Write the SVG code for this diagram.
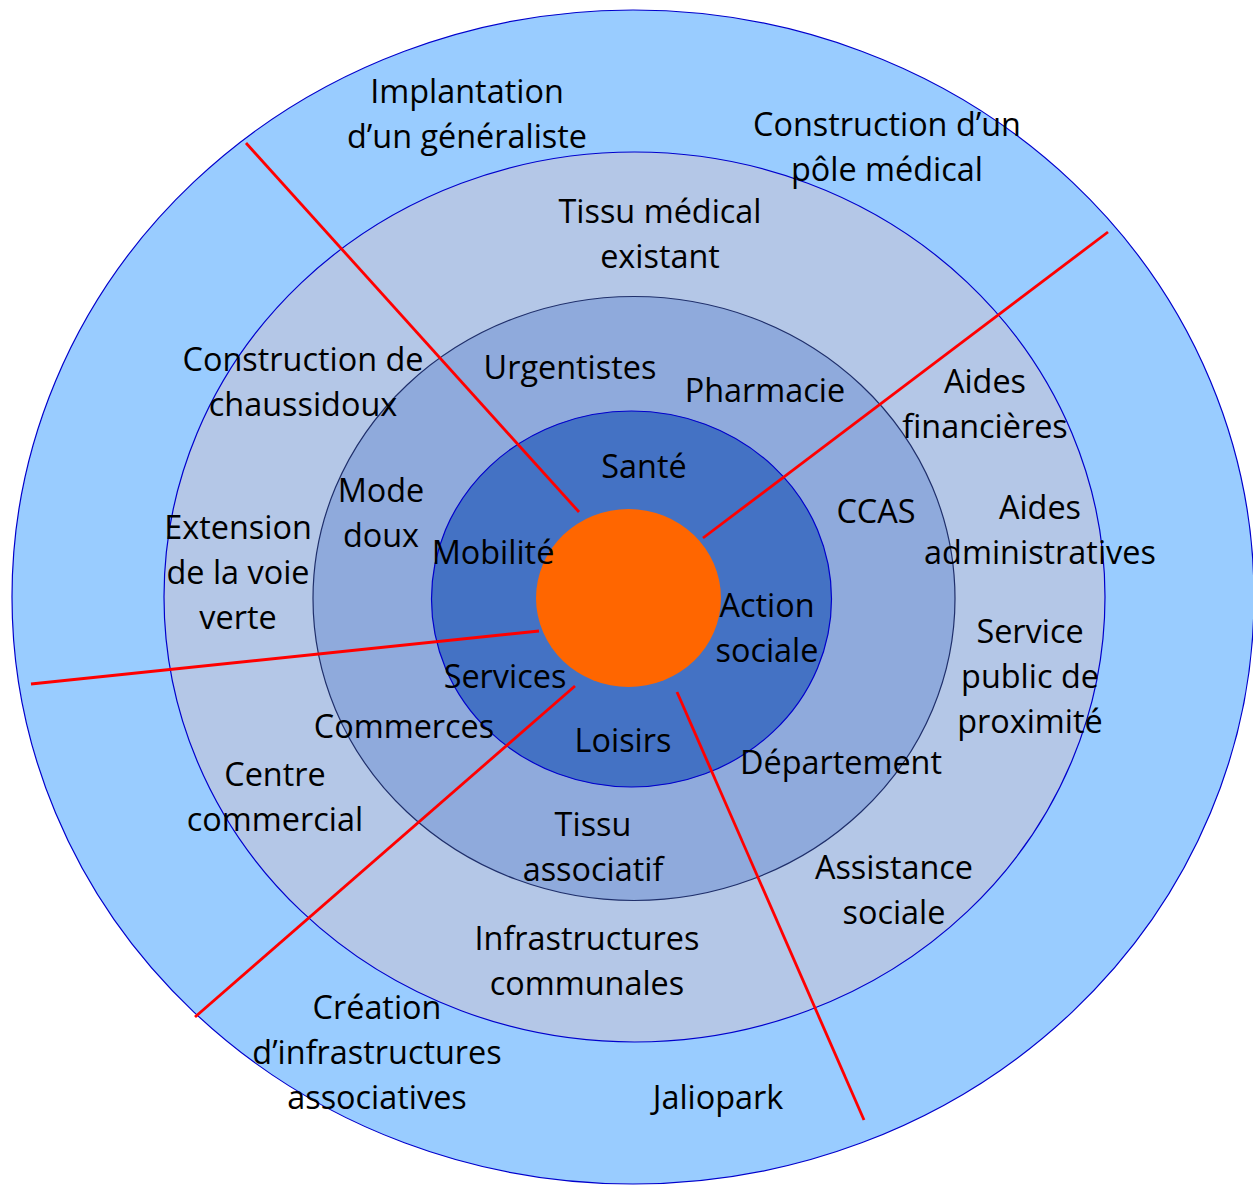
<svg xmlns="http://www.w3.org/2000/svg" width="1253" height="1186" viewBox="0 0 1253 1186">
<style>
text{font-family:"Open Sans","Noto Sans","Liberation Sans",sans-serif;font-size:32.4px;fill:#000;text-anchor:middle}
.ring1{fill:#99CCFF;stroke:#0000CC;stroke-width:1.2}
.ring2{fill:#B4C7E7;stroke:#0000CC;stroke-width:1.2}
.ring3{fill:#8FAADC;stroke:#1F2F6B;stroke-width:1.2}
.ring4{fill:#4472C4;stroke:#0000CC;stroke-width:1.2}
.core{fill:#FF6600}
.conn line{stroke:#FF0000;stroke-width:2.8}
</style>
<rect width="1253" height="1186" fill="#fff"/>
<g id="ring-outer"><ellipse class="ring1" cx="633" cy="597" rx="621" ry="587"/></g>
<g id="ring-2"><ellipse class="ring2" cx="634.5" cy="597" rx="470.5" ry="445"/></g>
<g id="ring-3"><ellipse class="ring3" cx="634" cy="598.5" rx="321" ry="302"/></g>
<g id="ring-4"><ellipse class="ring4" cx="631.5" cy="599" rx="200" ry="188"/></g>
<g id="core"><ellipse class="core" cx="628.5" cy="598" rx="92.5" ry="89"/></g>
<g id="connectors" class="conn">
<line x1="246" y1="143" x2="579" y2="512"/>
<line x1="1108" y1="232" x2="703" y2="538"/>
<line x1="31" y1="684" x2="539" y2="631"/>
<line x1="195" y1="1017" x2="575" y2="686"/>
<line x1="677" y1="692" x2="864" y2="1120"/>
</g>
<g id="label-implantation"><text x="467" y="103">Implantation</text><text x="467" y="148">d’un généraliste</text></g>
<g id="label-pole"><text x="887" y="136">Construction d’un</text><text x="887" y="181">pôle médical</text></g>
<g id="label-tissu-medical"><text x="660" y="223">Tissu médical</text><text x="660" y="268">existant</text></g>
<g id="label-chaussidoux"><text x="303" y="371">Construction de</text><text x="303" y="416">chaussidoux</text></g>
<g id="label-urgentistes"><text x="570" y="379">Urgentistes</text></g>
<g id="label-pharmacie"><text x="765" y="402">Pharmacie</text></g>
<g id="label-aides-fin"><text x="985" y="393">Aides</text><text x="985" y="438">financières</text></g>
<g id="label-sante"><text x="644" y="478">Santé</text></g>
<g id="label-mode-doux"><text x="381" y="502">Mode</text><text x="381" y="547">doux</text></g>
<g id="label-voie-verte"><text x="238" y="539">Extension</text><text x="238" y="584">de la voie</text><text x="238" y="629">verte</text></g>
<g id="label-mobilite"><text x="493" y="564">Mobilité</text></g>
<g id="label-ccas"><text x="876" y="523">CCAS</text></g>
<g id="label-aides-adm"><text x="1040" y="519">Aides</text><text x="1040" y="564">administratives</text></g>
<g id="label-action-sociale"><text x="767" y="617">Action</text><text x="767" y="662">sociale</text></g>
<g id="label-service-public"><text x="1030" y="643">Service</text><text x="1030" y="688">public de</text><text x="1030" y="733">proximité</text></g>
<g id="label-services"><text x="505" y="688">Services</text></g>
<g id="label-commerces"><text x="404" y="738">Commerces</text></g>
<g id="label-loisirs"><text x="623" y="752">Loisirs</text></g>
<g id="label-departement"><text x="841" y="774">Département</text></g>
<g id="label-centre-commercial"><text x="275" y="786">Centre</text><text x="275" y="831">commercial</text></g>
<g id="label-tissu-asso"><text x="593" y="836">Tissu</text><text x="593" y="881">associatif</text></g>
<g id="label-assistance"><text x="894" y="879">Assistance</text><text x="894" y="924">sociale</text></g>
<g id="label-infra-communales"><text x="587" y="950">Infrastructures</text><text x="587" y="995">communales</text></g>
<g id="label-creation"><text x="377" y="1019">Création</text><text x="377" y="1064">d’infrastructures</text><text x="377" y="1109">associatives</text></g>
<g id="label-jaliopark"><text x="718" y="1109">Jaliopark</text></g>
</svg>
